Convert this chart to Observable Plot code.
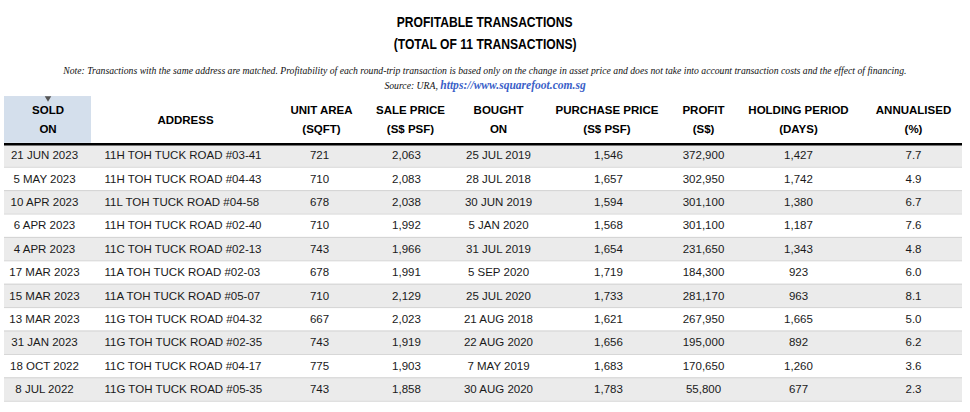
<!DOCTYPE html>
<html>
<head>
<meta charset="utf-8">
<script src="https://cdn.jsdelivr.net/npm/d3@7"></script>
<script src="https://cdn.jsdelivr.net/npm/@observablehq/plot@0.6"></script>
<style>
  html, body { margin: 0; padding: 0; background: #fff; }
  #wrap { width: 970px; height: 412px; position: relative; overflow: hidden; }
  #head { position: relative; width: 970px; height: 92px; }
  .title { position: absolute; left: 0; width: 970px; text-align: center;
           font: bold 15.5px "Liberation Sans", Arial, sans-serif; line-height: 22px; color: #000; }
  .title span { display: inline-block; transform: scaleX(0.78); transform-origin: center; }
  .note { position: absolute; left: 0; width: 970px; text-align: center;
          font: italic 10.5px "Liberation Serif", "Times New Roman", serif; line-height: 14px; color: #111; }
  .note span { display: inline-block; transform: scaleX(0.923); transform-origin: center; white-space: nowrap; }
  .note a { color: #3b5fc8; font-weight: bold; font-size: 12.5px; text-decoration: none; }
  #chart svg { display: block; }
</style>
</head>
<body>
<div id="wrap">
  <div id="head">
    <div class="title" style="top:11px"><span>PROFITABLE TRANSACTIONS</span><br><span>(TOTAL OF 11 TRANSACTIONS)</span></div>
    <div class="note" style="top:64px"><span>Note: Transactions with the same address are matched. Profitability of each round-trip transaction is based only on the change in asset price and does not take into account transaction costs and the effect of financing.</span></div>
    <div class="note" style="top:78px"><span>Source: URA, <a href="https://www.squarefoot.com.sg">https://www.squarefoot.com.sg</a></span></div>
  </div>
  <div id="chart"></div>
</div>
<script>
// ---- data ----
const headers = ["SOLD\nON", "ADDRESS", "UNIT AREA\n(SQFT)", "SALE PRICE\n(S$ PSF)", "BOUGHT\nON",
                 "PURCHASE PRICE\n(S$ PSF)", "PROFIT\n(S$)", "HOLDING PERIOD\n(DAYS)", "ANNUALISED\n(%)"];
const soldOn = ["21 JUN 2023", "5 MAY 2023", "10 APR 2023", "6 APR 2023", "4 APR 2023", "17 MAR 2023",
                "15 MAR 2023", "13 MAR 2023", "31 JAN 2023", "18 OCT 2022", "8 JUL 2022"];
const address = ["11H TOH TUCK ROAD #03-41", "11H TOH TUCK ROAD #04-43", "11L TOH TUCK ROAD #04-58",
                 "11H TOH TUCK ROAD #02-40", "11C TOH TUCK ROAD #02-13", "11A TOH TUCK ROAD #02-03",
                 "11A TOH TUCK ROAD #05-07", "11G TOH TUCK ROAD #04-32", "11G TOH TUCK ROAD #02-35",
                 "11C TOH TUCK ROAD #04-17", "11G TOH TUCK ROAD #05-35"];
const unitArea = [721, 710, 678, 710, 743, 678, 710, 667, 743, 775, 743];
const salePrice = [2063, 2083, 2038, 1992, 1966, 1991, 2129, 2023, 1919, 1903, 1858];
const boughtOn = ["25 JUL 2019", "28 JUL 2018", "30 JUN 2019", "5 JAN 2020", "31 JUL 2019", "5 SEP 2020",
                  "25 JUL 2020", "21 AUG 2018", "22 AUG 2020", "7 MAY 2019", "30 AUG 2020"];
const purchasePrice = [1546, 1657, 1594, 1568, 1654, 1719, 1733, 1621, 1656, 1683, 1783];
const profit = [372900, 302950, 301100, 301100, 231650, 184300, 281170, 267950, 195000, 170650, 55800];
const holdingPeriod = [1427, 1742, 1380, 1187, 1343, 923, 963, 1665, 892, 1260, 677];
const annualised = [7.7, 4.9, 6.7, 7.6, 4.8, 6.0, 8.1, 5.0, 6.2, 3.6, 2.3];

// ---- layout (not data) ----
const headerX = [47.5, 185, 321, 410, 498, 606.5, 703, 798, 913];
const cellX   = [44,   104, 319, 406, 498, 608,   703, 798, 913];
const tableLeft = 4, tableRight = 962, sortedRight = 91;
const headerTop = -2.02;

const fmt = d3.format(",");
const fmt1 = d3.format(".1f");
const rows = soldOn.map((s, i) => ({
  i,
  cells: [s, address[i], fmt(unitArea[i]), fmt(salePrice[i]), boughtOn[i],
          fmt(purchasePrice[i]), fmt(profit[i]), fmt(holdingPeriod[i]), fmt1(annualised[i])]
}));
const headerData = headers.map((h, c) => ({c, h}));

const cellMarks = cellX.map((x, c) => Plot.text(rows, {
  x: () => x, y: d => d.i + 0.5, text: d => d.cells[c],
  textAnchor: c === 1 ? "start" : "middle", fill: "#1a1a1a"
}));

const chart = Plot.plot({
  width: 970, height: 320,
  margin: 0,
  x: {type: "linear", domain: [0, 970], range: [0, 970], axis: null},
  y: {type: "linear", domain: [0, 11], range: [51.3, 308.7], axis: null},
  style: {fontFamily: "'Liberation Sans', Arial, Helvetica, sans-serif", fontSize: "11.5px", background: "#fff"},
  marks: [
    Plot.rect([0], {x1: () => tableLeft, x2: () => sortedRight, y1: () => headerTop, y2: () => -0.02, fill: "#d4dfec"}),
    Plot.rect(rows.filter(d => d.i % 2 === 0), {x1: () => tableLeft, x2: () => tableRight, y1: d => d.i, y2: d => d.i + 1, fill: "#ebebeb"}),
    Plot.ruleY(rows, {y: d => d.i + 1, x1: () => tableLeft, x2: () => tableRight, stroke: "#d3d3d3", strokeWidth: 1}),
    Plot.ruleY([0], {x1: () => tableLeft, x2: () => tableRight, stroke: "#000", strokeWidth: 2.5, dy: 0.5}),
    Plot.dot([0], {x: () => headerX[0], y: () => headerTop, dy: 1.5, symbol: "triangle", r: 2.4, fill: "#555", rotate: 180}),
    Plot.text(headerData, {x: d => headerX[d.c], y: () => -1.12, text: "h", fontWeight: "bold",
                           lineHeight: 1.65, fill: "#000"}),
    ...cellMarks
  ]
});
document.getElementById("chart").appendChild(chart);
</script>
</body>
</html>
